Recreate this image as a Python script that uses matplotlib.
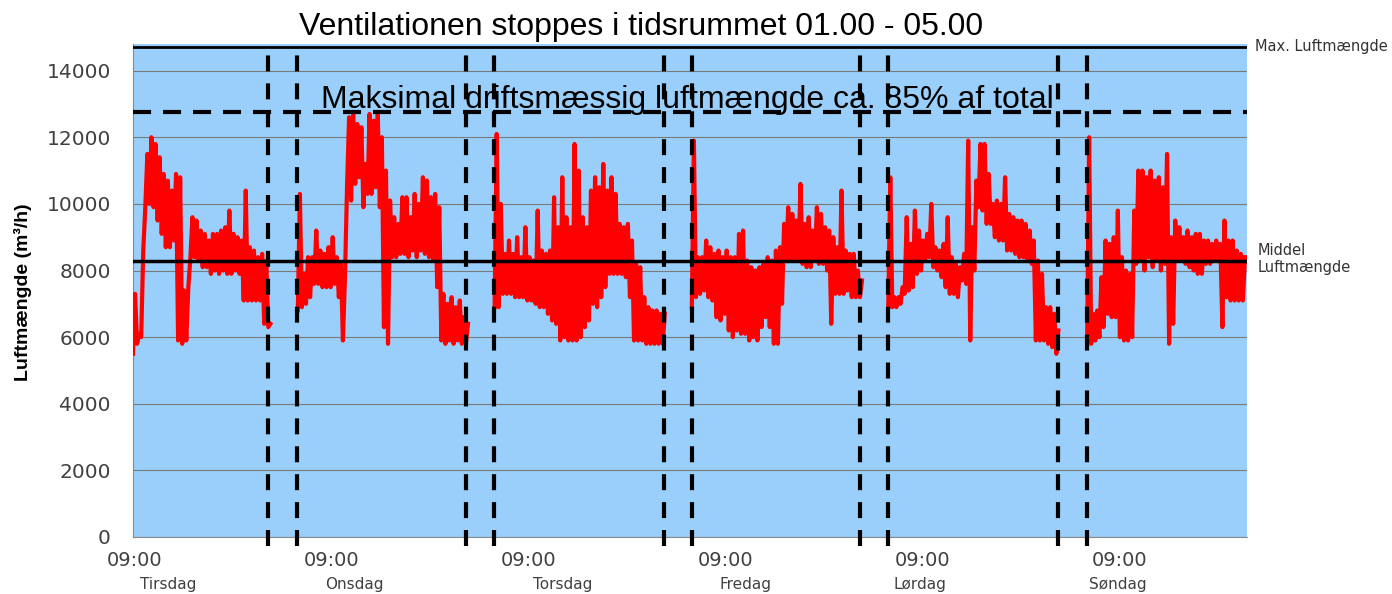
import numpy as np
import matplotlib.pyplot as plt
from matplotlib.transforms import blended_transform_factory

plt.rcParams['lines.scale_dashes'] = False

# hours after Tuesday 09:00, step 0.5 h; lo/hi = spread of the logged air flow
step = 0.5
seg_start = [-0.25, 19.85, 43.85, 67.9, 91.85, 116.1]

tue_lo = [5500, 5800, 6000, 9900, 10000, 9900, 9500, 9100, 8700, 8700, 8900, 5900,
          5800, 5900, 8400, 8400, 8300, 8100, 8100, 7900, 8000, 7900, 8000, 7900,
          7900, 8000, 7900, 7100, 7100, 7100, 7100, 7100, 6400, 6300]
tue_hi = [7300, 6100, 8600, 11500, 12000, 11800, 11400, 10900, 10700, 10400, 10900, 10800,
          7400, 7500, 9600, 9500, 9200, 9100, 8900, 9100, 9100, 9200, 9300, 9800,
          9100, 9000, 8900, 10400, 8700, 8600, 8400, 8500, 8300, 6400]

wed_lo = [6800, 6900, 7000, 7200, 7600, 7600, 7500, 7500, 7500, 7600, 7200, 5900,
          10500, 10100, 10600, 10800, 9900, 10300, 10300, 10500, 9900, 6300, 5800, 8400,
          8400, 8500, 8500, 8400, 8600, 8400, 8600, 8500, 8400, 8300, 7500, 5900,
          5800, 5900, 5800, 5900, 5800, 5800]
wed_hi = [10300, 7900, 8400, 8400, 9200, 8600, 8500, 8700, 9000, 8400, 8200, 7800,
          12600, 12700, 12400, 12300, 11200, 12700, 12500, 12700, 12000, 11000, 10100, 9600,
          9400, 10200, 10200, 9600, 10300, 10000, 10800, 10700, 10200, 10300, 9900, 7300,
          7000, 7200, 6900, 7100, 6600, 6400]

thu_lo = [6900, 6900, 7300, 7300, 7300, 7200, 7200, 7200, 7100, 7100, 7000, 6900,
          6900, 6700, 6500, 6400, 5900, 6000, 5900, 5900, 5900, 6000, 6300, 6500,
          7000, 6900, 7200, 7500, 7900, 7900, 7900, 7900, 7800, 7200, 5900, 5900,
          5900, 5800, 5800, 5800, 5800, 5800]
thu_hi = [12100, 10000, 8500, 8900, 8500, 9000, 8400, 9300, 8400, 8300, 9800, 8600,
          8500, 8600, 10200, 9300, 10800, 9600, 9300, 11800, 11000, 9600, 9300, 10400,
          10800, 10500, 11200, 10400, 10800, 10300, 9400, 9300, 9400, 8900, 8200, 8100,
          7200, 6900, 6800, 6800, 6700, 6700]

fri_lo = [6900, 7200, 7300, 7400, 7200, 7100, 6600, 6500, 6700, 6200, 6000, 6200,
          6100, 6100, 5900, 6000, 5900, 6300, 6600, 6300, 5800, 5800, 7000, 8300,
          8300, 8300, 8300, 8200, 8100, 8100, 8300, 8200, 8200, 8000, 6400, 7300,
          7300, 7300, 7400, 7200, 7200, 7200]
fri_hi = [11900, 8400, 8400, 8900, 8700, 8500, 8600, 8400, 8600, 8400, 8400, 9100,
          9200, 8300, 8100, 8000, 8100, 8200, 8400, 8300, 8600, 8700, 9400, 9900,
          9700, 9500, 10600, 9400, 9600, 9200, 9900, 9700, 9300, 9200, 9000, 8700,
          10400, 8600, 8500, 8500, 8000, 7700]

sat_lo = [6900, 6900, 6900, 7000, 7300, 7400, 7500, 7900, 8000, 8300, 8400, 8100,
          8000, 7800, 7500, 7300, 7300, 7200, 7700, 7600, 5900, 8000, 9900, 9800,
          9400, 9400, 9000, 8900, 8900, 8600, 8600, 8500, 8400, 8400, 8300, 8200,
          5900, 5900, 5900, 5800, 5700, 5500]
sat_hi = [10800, 7200, 7200, 7500, 9600, 8800, 9800, 9200, 8900, 9100, 10000, 8700,
          8600, 8800, 9600, 8400, 8200, 8100, 8500, 11900, 9300, 10700, 11800, 11800,
          10900, 10000, 10100, 10000, 10800, 9700, 9600, 9500, 9500, 9400, 9200, 8900,
          8300, 7900, 6900, 6900, 6700, 6200]

sun_lo = [5800, 5800, 5900, 6000, 6300, 6700, 6600, 6600, 6000, 5900, 5900, 6000,
          8200, 8300, 8000, 8400, 8100, 8300, 8000, 8200, 5800, 6400, 8300, 8300,
          8200, 8100, 8000, 7900, 7900, 8200, 8200, 8300, 8300, 6300, 7200, 7100,
          7100, 7100, 7100]
sun_hi = [12000, 6700, 6800, 7800, 8900, 8800, 9000, 9800, 8400, 8000, 7900, 9800,
          11000, 11000, 10800, 11000, 10700, 10800, 10500, 11500, 9000, 9500, 9300, 9000,
          9200, 9000, 9100, 9100, 8900, 8900, 8800, 8900, 8800, 9500, 8900, 8900,
          8600, 8500, 8400]

seg_lo = [tue_lo, wed_lo, thu_lo, fri_lo, sat_lo, sun_lo]
seg_hi = [tue_hi, wed_hi, thu_hi, fri_hi, sat_hi, sun_hi]

# ventilation stopped 01.00 - 05.00 (as drawn)
stop_lines = [16.2, 19.8, 40.4, 43.8, 64.5, 67.9, 88.4, 91.8, 112.6, 116.1]

tick_hours = [0, 24, 48, 72, 96, 120]
day_names = ['Tirsdag', 'Onsdag', 'Torsdag', 'Fredag', 'Lørdag', 'Søndag']
day_pos = [4.1, 26.8, 52.1, 74.5, 95.7, 119.8]

max_flow = 14700
drift_max = 12750
mean_flow = 8300

fig = plt.figure(figsize=(13.92, 5.94), dpi=100)
ax = fig.add_axes([133/1392, 57/594, 1114/1392, 493/594])
ax.set_facecolor('#99CFFA')

ax.set_xlim(-0.25, 135.6)
ax.set_ylim(0, 14800)
ax.set_yticks(range(0, 14001, 2000))
ax.yaxis.grid(True, color='#7a7a7a', lw=0.8)
ax.set_axisbelow(True)

for s in ['top', 'right']:
    ax.spines[s].set_visible(False)
for s in ['left', 'bottom']:
    ax.spines[s].set_color('#8a8a8a')

# red flow curve: zig-zag between the low and high readings
for start, lo, hi in zip(seg_start, seg_lo, seg_hi):
    t = start + step*np.arange(len(lo))
    xs = np.column_stack([t, t + step/2]).ravel()
    ys = np.column_stack([lo, hi]).ravel()
    ax.plot(xs, ys, color='#FF0000', lw=3, zorder=3)

ax.axhline(max_flow, color='black', lw=2, zorder=4)
ax.axhline(mean_flow, color='black', lw=2.5, zorder=4)
ax.axhline(drift_max, color='black', lw=3, dashes=(13, 8.6), zorder=4)

for t in stop_lines:
    ax.plot([t, t], [-270, max_flow], color='black', lw=3, dashes=(11.5, 8.6),
            zorder=5, clip_on=False)

ax.tick_params(axis='both', length=0, labelsize=14, labelcolor='#404040')
ax.tick_params(axis='y', pad=16, labelsize=14.5)
ax.tick_params(axis='x', pad=10)
ax.set_xticks(tick_hours)
ax.set_xticklabels(['09:00'] * len(tick_hours))

tr = blended_transform_factory(ax.transData, fig.transFigure)
for name, pos in zip(day_names, day_pos):
    ax.text(pos, 1 - 585/594, name, transform=tr, ha='center', va='center',
            fontsize=11, color='#404040')

fig.text(23/1392, 1 - 292/594, 'Luftmængde (m³/h)', rotation=90, ha='center',
         va='center', fontsize=14, fontweight='bold',
         family=['Liberation Sans Narrow', 'Liberation Sans'])

fig.text(641/1392, 1 - 27/594, 'Ventilationen stoppes i tidsrummet 01.00 - 05.00',
         ha='center', va='center', fontsize=23, family='Liberation Sans')
fig.text(687/1392, 1 - 108/594, 'Maksimal driftsmæssig luftmængde ca. 85% af total',
         ha='center', va='baseline', fontsize=23, family='Liberation Sans', zorder=6)

fig.text(1255/1392, 1 - 47/594, 'Max. Luftmængde', ha='left', va='center',
         fontsize=10.5, color='#333333')
fig.text(1258/1392, 1 - 259/594, 'Middel\nLuftmængde', ha='left', va='center',
         fontsize=10.5, color='#333333', linespacing=1.1)

fig.savefig('out.png', dpi=100)
